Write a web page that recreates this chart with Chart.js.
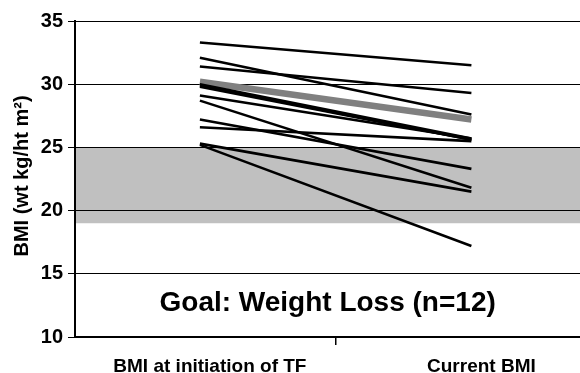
<!DOCTYPE html>
<html>
<head>
<meta charset="utf-8">
<script src="https://cdn.jsdelivr.net/npm/chart.js@4.4.1/dist/chart.umd.min.js"></script>
<style>
  html, body { margin: 0; padding: 0; background: #fff; overflow: hidden; }
  #wrap { position: relative; width: 580px; height: 373px; }
</style>
</head>
<body>
<div id="wrap"><canvas id="c"></canvas></div>
<script>
// ---- data ----
const categories = ['BMI at initiation of TF', 'Current BMI'];
const bmiInitial = [33.3, 32.1, 31.4, 30.0, 29.9, 29.1, 28.7, 27.2, 26.6, 25.3, 25.2, 29.8];
const bmiCurrent = [31.5, 27.6, 29.3, 25.7, 25.6, 25.7, 21.8, 23.3, 25.5, 21.5, 17.2, 25.6];
const meanValues = [30.2, 27.2];
const goalBand = [19, 25];
const yTicks = [10, 15, 20, 25, 30, 35];
const chartTitle = 'Goal: Weight Loss (n=12)';
const yTitle = 'BMI (wt kg/ht m\u00B2)';

const FONT = "'Liberation Sans', Arial, sans-serif";

const datasets = bmiInitial.map((v, i) => ({
  data: [{x: 0, y: v}, {x: 1, y: bmiCurrent[i]}],
  borderColor: '#000',
  borderWidth: 2.6,
  pointRadius: 0,
  tension: 0,
  order: 0
}));
datasets.push({
  data: meanValues.map((v, i) => ({x: i, y: v})),
  borderColor: '#808080',
  borderWidth: 6.5,
  pointRadius: 0,
  tension: 0,
  order: 1
});

const decor = {
  id: 'decor',
  beforeDraw(chart) {
    const {ctx, chartArea, scales} = chart;
    const y = scales.y;
    const top = y.getPixelForValue(goalBand[1]);
    const bot = y.getPixelForValue(goalBand[0]);
    ctx.save();
    ctx.fillStyle = '#c0c0c0';
    ctx.fillRect(chartArea.left, top, chartArea.right - chartArea.left, bot - top);
    ctx.restore();
  },
  afterDraw(chart) {
    const {ctx, scales} = chart;
    ctx.save();
    ctx.fillStyle = '#000';
    ctx.font = 'bold 28px ' + FONT;
    ctx.textAlign = 'center';
    ctx.textBaseline = 'middle';
    const cx = scales.x.getPixelForValue(0.5) - 8;
    ctx.fillText(chartTitle, cx, scales.y.getPixelForValue(12.65));
    // y-axis title
    ctx.translate(22, 176);
    ctx.rotate(-Math.PI / 2);
    ctx.font = 'bold 20px ' + FONT;
    ctx.fillText(yTitle, 0, 0);
    ctx.restore();
  }
};

new Chart(document.getElementById('c'), {
  type: 'line',
  data: { datasets },
  options: {
    responsive: true,
    maintainAspectRatio: false,
    animation: false,
    layout: { padding: { top: 21, left: 0, right: 0, bottom: 0 } },
    plugins: { legend: { display: false }, tooltip: { enabled: false } },
    scales: {
      x: {
        type: 'linear',
        min: -0.46,
        max: 1.4,
        afterFit(s) { s.height = 36; },
        afterBuildTicks(s) {
          s.ticks = [{value: 0}, {value: 0.5}, {value: 1}];
        },
        ticks: {
          autoSkip: false,
          maxRotation: 0,
          padding: 10,
          labelOffset: 10,
          color: '#000',
          font: { family: FONT, size: 19, weight: 'bold' },
          callback(v) {
            if (v === 0) return categories[0];
            if (v === 1) return categories[1];
            return '';
          }
        },
        grid: {
          drawOnChartArea: false,
          drawTicks: true,
          tickLength: 8,
          lineWidth: 1.5,
          color(ctx) { return ctx.tick && ctx.tick.value === 0.5 ? '#000' : 'rgba(0,0,0,0)'; }
        },
        border: { display: true, color: '#000', width: 2 }
      },
      y: {
        min: 10,
        max: 35,
        afterFit(s) { s.width = 75; },
        afterBuildTicks(s) { s.ticks = yTicks.map(v => ({value: v})); },
        ticks: {
          padding: 5,
          color: '#000',
          font: { family: FONT, size: 20, weight: 'bold' }
        },
        grid: {
          color: '#000',
          lineWidth: 1,
          tickLength: 7
        },
        border: { display: true, color: '#000', width: 2 }
      }
    }
  },
  plugins: [decor]
});
</script>
</body>
</html>
